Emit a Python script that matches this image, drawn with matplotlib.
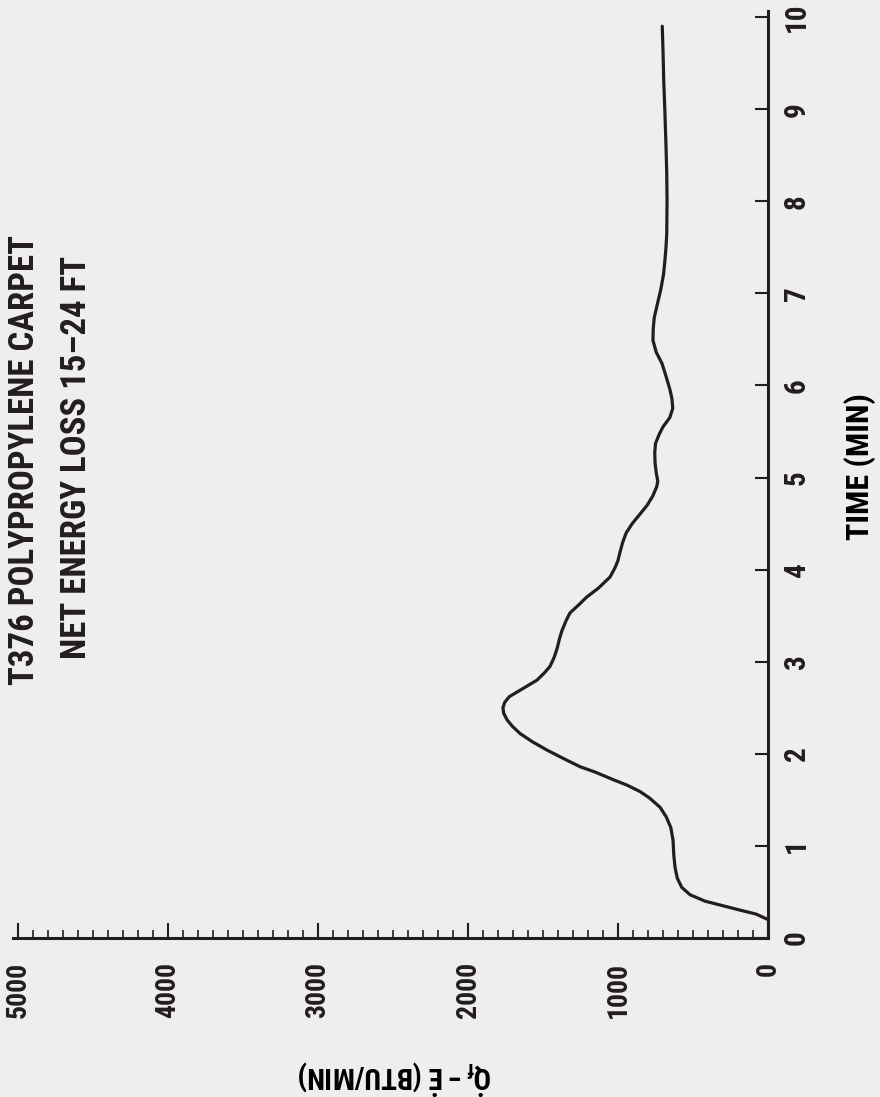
import os
import matplotlib
matplotlib.use("Agg")
import matplotlib.pyplot as plt
from matplotlib import font_manager as fm
from matplotlib.ticker import MultipleLocator

# ---------------- data ----------------
time_min = [0.20, 0.26, 0.30, 0.35, 0.40, 0.47, 0.55, 0.65, 0.77, 0.90, 1.06, 1.20,
            1.32, 1.42, 1.52, 1.59, 1.66, 1.72, 1.80, 1.86, 1.95, 2.04, 2.13, 2.22,
            2.30, 2.37, 2.44, 2.50, 2.56, 2.62, 2.69, 2.80, 2.88, 2.95, 3.05, 3.15,
            3.25, 3.34, 3.45, 3.53, 3.62, 3.70, 3.80, 3.92, 4.02, 4.10, 4.20, 4.30,
            4.40, 4.50, 4.60, 4.70, 4.80, 4.90, 4.96, 5.05, 5.16, 5.27, 5.37, 5.47,
            5.55, 5.65, 5.75, 5.85, 5.95, 6.10, 6.24, 6.36, 6.49, 6.62, 6.74, 6.88,
            7.04, 7.20, 7.36, 7.50, 7.65, 8.00, 8.30, 8.60, 9.00, 9.30, 9.64, 9.90]
net_energy = [0, 80, 180, 300, 420, 520, 575, 605, 620, 628, 633, 648,
              680, 720, 790, 853, 940, 1033, 1150, 1253, 1365, 1473, 1570, 1653,
              1705, 1740, 1762, 1767, 1755, 1725, 1653, 1540, 1490, 1453, 1425, 1405,
              1390, 1373, 1345, 1320, 1260, 1210, 1130, 1053, 1020, 1000, 985, 968,
              945, 905, 855, 805, 768, 742, 735, 745, 753, 755, 750, 725,
              700, 655, 635, 640, 653, 680, 707, 745, 767, 765, 758, 738,
              715, 697, 687, 680, 675, 673, 675, 680, 688, 695, 700, 705]

time_ticks = [0, 1, 2, 3, 4, 5, 6, 7, 8, 9, 10]
time_labels = ["0", "1", "2", "3", "4", "5", "6", "7", "8", "9", "10"]
q_ticks = [0, 1000, 2000, 3000, 4000, 5000]
q_labels = ["0", "1000", "2000", "3000", "4000", "5000"]

title_line1 = "T376 POLYPROPYLENE CARPET"
title_line2 = "NET ENERGY LOSS 15\u201324 FT"
time_axis_label = "TIME (MIN)"
q_axis_label = r"$\dot{Q}_{f} - \dot{E}$ (BTU/MIN)"

# ---------------- style ----------------
INK = "#231c20"
BG = "#eeeeec"


def pick_condensed_bold():
    files = {}
    for f in fm.fontManager.ttflist:
        files[os.path.basename(f.fname).lower()] = f
    prefs = ["robotocondensed-bold", "roboto-condensedbold",
             "notosans-condensedbold", "notosans-semicondensedbold",
             "liberationsansnarrow-bold", "dejavusanscondensed-bold",
             "opensans-condensedbold", "opensans_condensed-bold"]
    for p in prefs:
        for k, f in files.items():
            if k.startswith(p) and "italic" not in k and "[" not in k:
                return f
    for k, f in files.items():
        if (("condensed" in k or "narrow" in k) and "bold" in k
                and "semibold" not in k and "extrabold" not in k
                and "italic" not in k and "[" not in k):
            return f
    return None


cf = pick_condensed_bold()
if cf is not None:
    FONT_PATH = cf.fname
    FAM_NAME = cf.name
else:
    FONT_PATH = fm.findfont(fm.FontProperties(family="DejaVu Sans", weight="bold"))
    FAM_NAME = "DejaVu Sans"


def fp(size):
    return fm.FontProperties(fname=FONT_PATH, size=size)


plt.rcParams["font.family"] = [FAM_NAME, "DejaVu Sans"]
plt.rcParams["font.weight"] = "bold"
plt.rcParams["mathtext.fontset"] = "custom"
plt.rcParams["mathtext.rm"] = FAM_NAME + ":bold"
plt.rcParams["mathtext.it"] = FAM_NAME + ":bold"
plt.rcParams["mathtext.bf"] = FAM_NAME + ":bold"
plt.rcParams["text.color"] = INK

fig = plt.figure(figsize=(8.8, 10.97), dpi=100, facecolor=BG)
ax = fig.add_axes([0.01449, 0.14494, 0.85824, 0.84458], facecolor=BG)

ax.plot(net_energy, time_min, color=INK, lw=2.3,
        solid_capstyle="round", solid_joinstyle="round")

ax.set_xlim(5035, 0)
ax.set_ylim(0, 10.06)

for s in ("top", "left"):
    ax.spines[s].set_visible(False)
for s in ("right", "bottom"):
    ax.spines[s].set_linewidth(2.2)
    ax.spines[s].set_color(INK)

# time axis (vertical, on the right)
ax.yaxis.tick_right()
ax.set_yticks(time_ticks)
ax.set_yticklabels(time_labels, rotation=90, ha="center", va="center")
for lab in ax.get_yticklabels():
    lab.set_fontproperties(fp(21))
ax.tick_params(axis="y", which="major", direction="in", length=9.4, width=1.5,
               color=INK, pad=20.9, labelcolor=INK)

# energy axis (horizontal, at the bottom, reversed)
ax.set_xticks(q_ticks)
ax.set_xticklabels(q_labels, rotation=90)
for lab in ax.get_xticklabels():
    lab.set_fontproperties(fp(20))
ax.xaxis.set_minor_locator(MultipleLocator(100))
ax.tick_params(axis="x", which="major", direction="in", length=10.8, width=1.5,
               color=INK, pad=17.3, labelcolor=INK)
ax.tick_params(axis="x", which="minor", direction="in", length=5.8, width=1.2,
               color=INK)

ax.yaxis.set_label_position("right")
ax.set_ylabel(time_axis_label, rotation=90, ha="center", va="center",
              fontproperties=fp(23))
ax.yaxis.set_label_coords(1.1218, 0.5084)

ax.set_xlabel(q_axis_label, rotation=180, ha="center", va="center",
              fontsize=21, fontweight="bold")
ax.xaxis.set_label_coords(0.5061, -0.150)

fig.text(0.0284, 0.5807, title_line1, rotation=90, ha="center", va="center",
         color=INK, fontproperties=fp(25))
fig.text(0.0875, 0.5830, title_line2, rotation=90, ha="center", va="center",
         color=INK, fontproperties=fp(25))

fig.savefig("out.png", dpi=100, facecolor=BG)
